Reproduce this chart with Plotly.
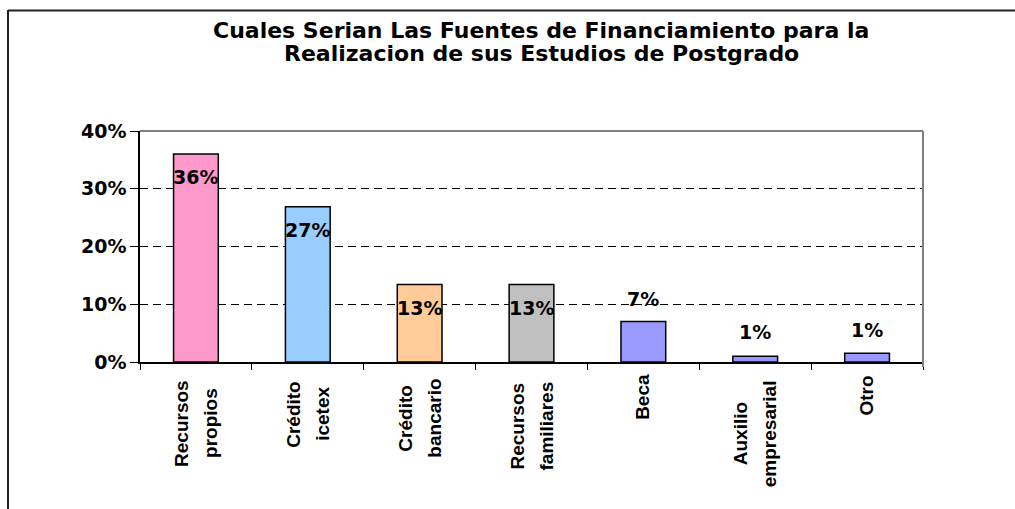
import plotly.graph_objects as go

# ---- data ----
categories = ["Recursos\npropios", "Crédito\nicetex", "Crédito\nbancario",
              "Recursos\nfamiliares", "Beca", "Auxilio\nempresarial", "Otro"]
values = [36.0, 26.9, 13.4, 13.4, 7.0, 1.0, 1.5]
value_labels = ["36%", "27%", "13%", "13%", "7%", "1%", "1%"]
ytick_vals = [0, 10, 20, 30, 40]
ytick_text = ["0%", "10%", "20%", "30%", "40%"]
title_lines = ["Cuales Serian Las Fuentes de Financiamiento para la",
               "Realizacion de sus Estudios de Postgrado"]

# ---- style ----
bar_colors = ["#FF99CC", "#99CCFF", "#FFCC99", "#C0C0C0", "#9999FF", "#9999FF", "#9999FF"]
label_shift = [-23, -23, -23, -23, 23, 24, 23]          # data label offset (px)
cat_center_px = [61, 52, 56, 64, 35, 72, 34]            # category label centre below axis (px)
FONT = "Liberation Sans, Arial, sans-serif"
NUM_FONT = "DejaVu Sans, Liberation Sans, sans-serif"

W, H = 1015, 509
L, R, T, B = 140, 923, 131, 362
pw, ph = R - L, B - T

def px_x(x):
    return (x - L) / pw

def px_y(y):
    return (B - y) / ph

fig = go.Figure()
fig.add_trace(go.Bar(
    x=categories, y=values,
    marker=dict(color=bar_colors, line=dict(color="black", width=1.5)),
    hoverinfo="skip",
))

annotations = []
for c, v, t, s in zip(categories, values, value_labels, label_shift):
    annotations.append(dict(
        x=c, y=v, xref="x", yref="y", text=t, showarrow=False,
        yanchor="middle", xanchor="center", yshift=s,
        font=dict(family=NUM_FONT, size=19, color="black", weight="bold"),
    ))

for c, cp in zip(categories, cat_center_px):
    lines = c.split("\n")
    shifts = [-1.5] if len(lines) == 1 else [-15, 14]
    for ln, xs in zip(lines, shifts):
        annotations.append(dict(
            x=c, y=0, xref="x", yref="y", text=ln, showarrow=False,
            textangle=-90, xanchor="center", yanchor="middle",
            xshift=xs, yshift=-cp,
            font=dict(family=FONT, size=19, color="black", weight="bold"),
        ))

for ln, yy in zip(title_lines, [30, 53]):
    annotations.append(dict(
        x=px_x(541), y=px_y(yy), xref="paper", yref="paper", text=ln,
        showarrow=False, xanchor="center", yanchor="middle",
        font=dict(family=NUM_FONT, size=22, color="black", weight="bold"),
    ))

shapes = [
    # plot border top/right (gray)
    dict(type="line", xref="paper", yref="paper", x0=0, x1=1, y0=1, y1=1,
         line=dict(color="#808080", width=2), layer="above"),
    dict(type="line", xref="paper", yref="paper", x0=1, x1=1, y0=px_y(367), y1=1,
         line=dict(color="#808080", width=2), layer="above"),
    # outer chart frame (left and top)
    dict(type="line", xref="paper", yref="paper", x0=px_x(8), x1=px_x(1015),
         y0=px_y(10.5), y1=px_y(10.5), line=dict(color="#222222", width=2)),
    dict(type="line", xref="paper", yref="paper", x0=px_x(8), x1=px_x(8),
         y0=px_y(10), y1=px_y(509), line=dict(color="#222222", width=2)),
]

fig.update_layout(
    width=W, height=H,
    margin=dict(l=L, r=W - R, t=T, b=H - B),
    paper_bgcolor="white", plot_bgcolor="white",
    showlegend=False, bargap=0.6,
    annotations=annotations, shapes=shapes,
    font=dict(family=FONT, color="black"),
)
fig.update_xaxes(
    showticklabels=False, showgrid=False, zeroline=False,
    showline=True, linecolor="black", linewidth=1.5,
    ticks="outside", tickson="boundaries", ticklen=6, tickcolor="black", tickwidth=1,
)
fig.update_yaxes(
    range=[0, 40], tickvals=ytick_vals, ticktext=ytick_text,
    showgrid=True, gridcolor="black", gridwidth=1, griddash="8px,5px",
    zeroline=False, showline=True, linecolor="black", linewidth=1.5,
    ticks="outside", ticklen=8, tickcolor="black", tickwidth=1,
    tickfont=dict(family=NUM_FONT, size=19, color="black", weight="bold"),
)

fig.write_html("out.html", config={"displayModeBar": False})

# remove the default page margin so the figure sits at (0, 0)
with open("out.html", "r", encoding="utf-8") as f:
    html = f.read()
html = html.replace("<body>", '<body style="margin:0;overflow:hidden">', 1)
with open("out.html", "w", encoding="utf-8") as f:
    f.write(html)
